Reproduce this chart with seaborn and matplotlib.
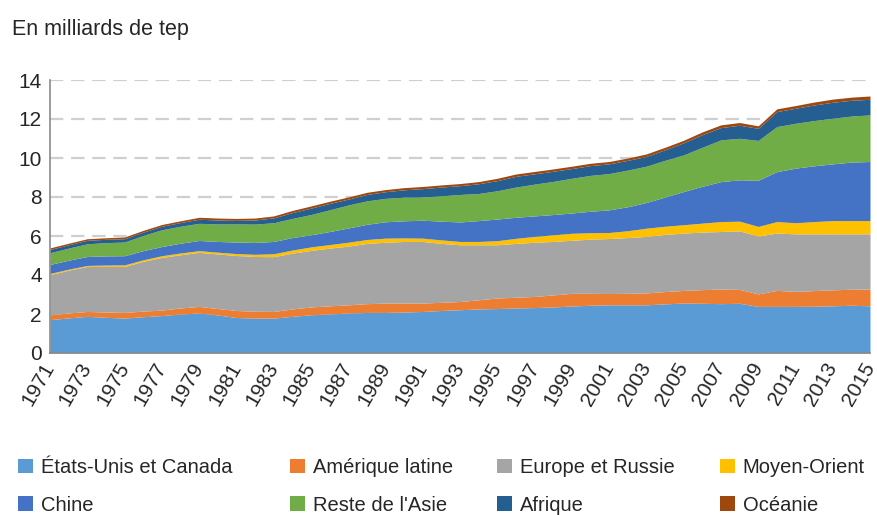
import matplotlib
matplotlib.use("Agg")
import matplotlib.pyplot as plt
from matplotlib.patches import Patch
import seaborn as sns

# annees 1971..2015
years = list(range(1971, 2016))

us_canada = [1.71, 1.80, 1.88, 1.83, 1.79, 1.86, 1.92, 2.00, 2.05, 1.95,
             1.82, 1.79, 1.79, 1.88, 1.96, 2.00, 2.05, 2.08, 2.08, 2.10,
             2.13, 2.18, 2.22, 2.26, 2.28, 2.31, 2.33, 2.36, 2.41, 2.45,
             2.47, 2.47, 2.47, 2.52, 2.56, 2.55, 2.53, 2.55, 2.39, 2.39,
             2.39, 2.40, 2.42, 2.45, 2.42]
amerique_latine = [0.25, 0.25, 0.25, 0.27, 0.29, 0.29, 0.28, 0.31, 0.34, 0.33,
                   0.36, 0.35, 0.34, 0.38, 0.40, 0.42, 0.42, 0.45, 0.48, 0.46,
                   0.43, 0.42, 0.42, 0.47, 0.54, 0.55, 0.57, 0.62, 0.65, 0.61,
                   0.58, 0.59, 0.61, 0.63, 0.65, 0.70, 0.75, 0.71, 0.64, 0.82,
                   0.77, 0.80, 0.82, 0.82, 0.86]
europe_russie = [2.05, 2.20, 2.31, 2.34, 2.36, 2.55, 2.70, 2.73, 2.77, 2.80,
                 2.82, 2.81, 2.81, 2.86, 2.90, 2.96, 3.01, 3.09, 3.12, 3.16,
                 3.16, 3.02, 2.91, 2.82, 2.73, 2.76, 2.78, 2.74, 2.72, 2.78,
                 2.82, 2.86, 2.90, 2.93, 2.94, 2.95, 2.95, 3.00, 2.97, 2.94,
                 2.95, 2.91, 2.87, 2.84, 2.83]
moyen_orient = [0.07, 0.05, 0.05, 0.07, 0.08, 0.08, 0.09, 0.09, 0.09, 0.09,
                0.10, 0.11, 0.15, 0.16, 0.18, 0.18, 0.20, 0.20, 0.21, 0.18,
                0.17, 0.18, 0.17, 0.17, 0.21, 0.26, 0.30, 0.34, 0.36, 0.33,
                0.31, 0.35, 0.42, 0.42, 0.43, 0.46, 0.51, 0.50, 0.49, 0.59,
                0.57, 0.63, 0.68, 0.68, 0.68]
chine = [0.46, 0.46, 0.46, 0.47, 0.47, 0.47, 0.47, 0.50, 0.52, 0.55,
         0.59, 0.61, 0.63, 0.64, 0.62, 0.67, 0.73, 0.78, 0.84, 0.88,
         0.92, 0.96, 1.00, 1.07, 1.11, 1.08, 1.05, 1.04, 1.04, 1.10,
         1.16, 1.23, 1.32, 1.50, 1.70, 1.89, 2.05, 2.12, 2.37, 2.56,
         2.80, 2.86, 2.91, 3.00, 3.03]
reste_asie = [0.60, 0.62, 0.65, 0.68, 0.70, 0.78, 0.86, 0.87, 0.88, 0.90,
              0.93, 0.94, 0.96, 0.98, 1.04, 1.11, 1.18, 1.20, 1.20, 1.21,
              1.19, 1.30, 1.41, 1.39, 1.45, 1.55, 1.63, 1.70, 1.78, 1.84,
              1.86, 1.88, 1.86, 1.88, 1.88, 2.00, 2.14, 2.13, 2.04, 2.31,
              2.30, 2.32, 2.34, 2.36, 2.39]
afrique = [0.17, 0.17, 0.18, 0.17, 0.17, 0.17, 0.18, 0.19, 0.21, 0.20,
           0.18, 0.21, 0.25, 0.30, 0.33, 0.33, 0.30, 0.33, 0.34, 0.38,
           0.43, 0.45, 0.45, 0.50, 0.52, 0.55, 0.53, 0.52, 0.50, 0.50,
           0.50, 0.50, 0.50, 0.54, 0.62, 0.65, 0.63, 0.67, 0.62, 0.77,
           0.77, 0.80, 0.82, 0.81, 0.80]
oceanie = [0.08, 0.08, 0.08, 0.08, 0.09, 0.09, 0.09, 0.09, 0.10, 0.10,
           0.10, 0.10, 0.10, 0.11, 0.11, 0.11, 0.11, 0.11, 0.11, 0.11,
           0.11, 0.11, 0.11, 0.11, 0.12, 0.12, 0.12, 0.12, 0.12, 0.12,
           0.12, 0.12, 0.13, 0.13, 0.13, 0.14, 0.14, 0.14, 0.13, 0.14,
           0.14, 0.15, 0.16, 0.16, 0.17]

labels = ["États-Unis et Canada", "Amérique latine", "Europe et Russie",
          "Moyen-Orient", "Chine", "Reste de l'Asie", "Afrique", "Océanie"]
colors = ["#5B9BD5", "#ED7D31", "#A5A5A5", "#FFC000",
          "#4472C4", "#70AD47", "#255E91", "#9E480E"]
series = [us_canada, amerique_latine, europe_russie, moyen_orient,
          chine, reste_asie, afrique, oceanie]

sns.set_style("white")
plt.rcParams["font.family"] = ["Liberation Sans", "DejaVu Sans"]
txt = "#262626"
axis_grey = "#8a8a8a"

fig = plt.figure(figsize=(8.77, 5.15), dpi=100)
ax = fig.add_axes([50 / 877, 1 - 353 / 515, 820 / 877, 273 / 515])

ax.stackplot(years, *series, colors=colors, linewidth=0)

ax.set_xlim(1971, 2015)
ax.set_ylim(0, 14)
ax.set_yticks([0, 2, 4, 6, 8, 10, 12, 14])
ax.set_xticks(years)
ax.set_xticklabels([str(y) if (y - 1971) % 2 == 0 else "" for y in years],
                   rotation=60, ha="right", va="center", rotation_mode="anchor")

ax.set_axisbelow(True)
ax.yaxis.grid(True, color="#cfcfcf", linestyle=(0, (6, 3.5)), linewidth=1.6)
ax.xaxis.grid(False)

for s in ["top", "right"]:
    ax.spines[s].set_visible(False)
for s in ["left", "bottom"]:
    ax.spines[s].set_color(axis_grey)
    ax.spines[s].set_linewidth(1.2)

ax.tick_params(axis="both", which="major", direction="out", length=5,
               width=1.1, color=axis_grey, labelsize=15, labelcolor=txt)
ax.tick_params(axis="y", pad=1)
ax.tick_params(axis="x", pad=3)

fig.text(12 / 877, 1 - 29 / 515, "En milliards de tep", fontsize=15.5,
         color=txt, va="center", ha="left")

# legend: one small legend per column, two rows each
col_x = [18, 290, 497, 720]
for c, x0 in enumerate(col_x):
    idx = [c, c + 4]
    fig.legend([Patch(facecolor=colors[i], edgecolor="none") for i in idx],
               [labels[i] for i in idx], loc="upper left",
               bbox_to_anchor=(x0 / 877, 1 - 458 / 515), frameon=False,
               fontsize=14.5, handlelength=0.72, handleheight=0.72,
               handletextpad=0.4, labelspacing=0.92,
               borderaxespad=0, borderpad=0, labelcolor=txt)

fig.savefig("out.png", dpi=100)
